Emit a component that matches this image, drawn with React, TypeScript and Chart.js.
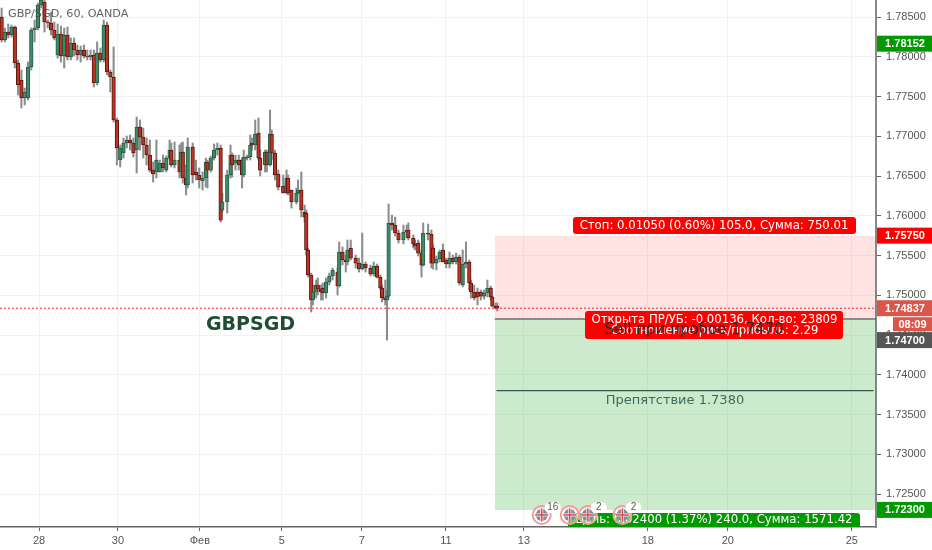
import React, { useEffect, useRef } from "react";
import { Chart, registerables } from "chart.js";

Chart.register(...registerables);

const hours = [
  1,3,5,7,9,11,13,15,17,19,21,23,25,27,29,31,33,35,37,39,41,43,45,47,49,51,53,55,57,59,61,63,65,67,69,71,73,75,77,79,81,83,85,87,89,91,93,95,
  97,99,101,103,104,106,109,110,111,113,
  114,117,119,121,123,125,126,128,130,132,
  134,135,138,140,141,143,145,147,148,150,
  152,153,155,157,158,161,162,164,165,167,
  169,172,174,175,177,180,181,183,185,186,
  187,189,190,192,193,195,196,198,200,202,
  205,206,208,210,211,213,216,218,220,222,
  225,227,229,231,232,234,235,236,238,240,
  242,245,247,248,251,252,254,256,257,260,
  262,263,265,267,269,271,273,275,277,279,
  281,283,285,286,288,290,292,294,296,298,
  299,301,302,
];

const opens = [
  1.785,1.78211,1.78311,1.78274,1.78374,1.77921,1.77708,1.77481,1.77481,1.77871,1.78337,1.78362,1.78651,1.78689,1.78437,1.78425,1.78337,1.78022,1.78286,1.7801,1.78274,1.77997,1.78173,1.78085,1.78022,1.78085,1.7801,1.77997,1.78022,1.7767,1.78047,1.77959,1.78399,1.77808,1.77745,1.77205,1.76701,1.76789,1.76915,1.76953,1.76915,1.76827,1.77116,1.7699,1.7689,1.76764,1.76575,1.7655,
  1.7655,1.76663,1.76575,1.76726,1.76827,1.76638,1.76701,1.7655,1.76802,1.76475,
  1.76387,1.76865,1.7655,1.76513,1.76437,1.76475,1.76676,1.76575,1.76726,1.76827,
  1.76852,1.76072,1.76173,1.76513,1.76764,1.76663,1.76701,1.76701,1.76513,1.76739,
  1.76739,1.76915,1.7689,1.77041,1.76726,1.76638,1.76802,1.76638,1.77028,1.76789,
  1.76525,1.76374,1.76286,1.76475,1.76324,1.76173,1.76286,1.76324,1.76047,1.76034,
  1.75569,1.75255,1.7494,1.75041,1.75129,1.75078,1.75091,1.75028,1.75166,1.75242,
  1.75292,1.75116,1.75544,1.75443,1.75418,1.75594,1.75468,1.75405,1.7533,1.75393,
  1.75343,1.75267,1.75368,1.75229,1.75091,1.74965,1.7494,1.7499,1.75909,1.75884,
  1.75783,1.75695,1.75796,1.75821,1.7572,1.75645,1.75657,1.75531,1.7538,1.75783,
  1.7577,1.75594,1.75405,1.75456,1.75569,1.75443,1.75393,1.75468,1.75418,1.75481,
  1.75129,1.75393,1.75418,1.75154,1.75041,1.75041,1.75041,1.7499,1.75028,1.75091,
  1.74978,1.74864,1.74864,
];

const closes = [
  1.78211,1.78311,1.78274,1.78374,1.77921,1.77645,1.77481,1.77557,1.77871,1.78337,1.78362,1.78651,1.78714,1.78437,1.78425,1.78337,1.78236,1.78286,1.7801,1.78274,1.77997,1.78173,1.78085,1.78022,1.78085,1.7801,1.77997,1.78022,1.7767,1.78047,1.77959,1.78399,1.77808,1.77745,1.77205,1.76852,1.76852,1.76915,1.76953,1.76915,1.76789,1.77116,1.7699,1.7689,1.76764,1.76575,1.76525,1.76701,
  1.76663,1.76601,1.76726,1.76827,1.76638,1.76701,1.7655,1.76802,1.76475,1.76387,
  1.76865,1.76513,1.76513,1.7645,1.76475,1.76676,1.76575,1.76726,1.76827,1.76852,
  1.75946,1.76173,1.76513,1.76764,1.76638,1.76701,1.76638,1.76513,1.76739,1.76726,
  1.7689,1.7689,1.77028,1.76726,1.76575,1.76802,1.76638,1.77028,1.76789,1.76513,
  1.76361,1.76286,1.76475,1.76286,1.76173,1.76286,1.76324,1.76072,1.75984,1.75569,
  1.75255,1.7494,1.75041,1.75129,1.75078,1.75041,1.75028,1.75166,1.75242,1.75318,
  1.75116,1.75544,1.75443,1.75418,1.75569,1.75468,1.75405,1.7533,1.75393,1.75343,
  1.75267,1.75368,1.75229,1.75091,1.74965,1.7494,1.7499,1.75909,1.75884,1.75783,
  1.75695,1.75796,1.75821,1.7572,1.75645,1.75619,1.75531,1.7538,1.75783,1.7577,
  1.75405,1.75405,1.75456,1.75544,1.75418,1.75393,1.75468,1.75418,1.75481,1.75154,
  1.75393,1.75418,1.75154,1.75041,1.74965,1.74978,1.7499,1.75028,1.75091,1.74978,
  1.74864,1.74839,1.74837,
];

const highs = [
  1.78613,1.78362,1.78412,1.78399,1.78387,1.77959,1.77833,1.77607,1.77934,1.78362,1.78462,1.78676,1.78714,1.78714,1.78462,1.78563,1.78437,1.78412,1.78387,1.78362,1.78374,1.78236,1.78236,1.78148,1.78135,1.78148,1.78085,1.78085,1.78085,1.78186,1.7811,1.78462,1.78437,1.77833,1.78123,1.7723,1.7689,1.76978,1.77003,1.77016,1.76978,1.77242,1.77205,1.77104,1.76978,1.76953,1.76676,1.76953,
  1.76701,1.76764,1.76752,1.76953,1.76915,1.76928,1.7689,1.76915,1.76928,1.76638,
  1.76978,1.76915,1.76701,1.76601,1.7655,1.76726,1.76701,1.76752,1.76903,1.76915,
  1.7689,1.76286,1.76575,1.7689,1.76789,1.76764,1.76764,1.76726,1.76827,1.76764,
  1.77016,1.76978,1.77205,1.7723,1.76827,1.76827,1.76827,1.7733,1.77079,1.76827,
  1.76575,1.76513,1.76575,1.76513,1.76324,1.76349,1.7645,1.7655,1.76135,1.76072,
  1.75594,1.7528,1.75129,1.75192,1.75217,1.75129,1.75154,1.75217,1.7528,1.75343,
  1.75343,1.7567,1.75607,1.75506,1.75695,1.75695,1.75506,1.75468,1.75783,1.75418,
  1.7538,1.75418,1.75393,1.75255,1.75129,1.75192,1.75066,1.76148,1.76009,1.75984,
  1.75821,1.75884,1.75884,1.75909,1.75758,1.75695,1.75695,1.75569,1.75909,1.75896,
  1.75821,1.75632,1.75494,1.75569,1.75645,1.75468,1.75544,1.75506,1.75531,1.75506,
  1.75569,1.7567,1.75443,1.75192,1.75129,1.75091,1.75066,1.75066,1.75192,1.75116,
  1.7499,1.74902,1.74902,
];

const lows = [
  1.78186,1.78186,1.78236,1.78249,1.77859,1.77519,1.77355,1.77393,1.77456,1.77833,1.78186,1.78337,1.78613,1.78311,1.78362,1.78274,1.78211,1.77984,1.77934,1.77859,1.77959,1.77959,1.7801,1.77959,1.77934,1.77984,1.77959,1.77959,1.7762,1.77645,1.77934,1.77934,1.77771,1.77557,1.77179,1.76638,1.76613,1.76726,1.76852,1.76827,1.76739,1.76538,1.76827,1.76726,1.76638,1.7655,1.76424,1.76475,
  1.7655,1.7655,1.7655,1.76701,1.76613,1.76601,1.76475,1.765,1.76412,1.76261,
  1.76349,1.76412,1.7645,1.76349,1.76324,1.76361,1.76349,1.7655,1.76701,1.76764,
  1.75921,1.76047,1.76034,1.76475,1.76487,1.76575,1.76575,1.76349,1.76487,1.76701,
  1.76701,1.76827,1.76827,1.76701,1.765,1.7655,1.7655,1.76626,1.76701,1.7645,
  1.76324,1.76286,1.76273,1.76261,1.76097,1.76148,1.76273,1.75984,1.75921,1.75506,
  1.75229,1.74789,1.74877,1.74965,1.75003,1.7494,1.7494,1.74965,1.75129,1.75192,
  1.75003,1.75104,1.7538,1.75292,1.7538,1.75443,1.75343,1.75292,1.75318,1.75292,
  1.75242,1.75242,1.75217,1.75066,1.74915,1.74877,1.74437,1.74965,1.75821,1.75745,
  1.75657,1.75645,1.7572,1.75695,1.75594,1.75569,1.75494,1.75229,1.75368,1.75695,
  1.75343,1.7533,1.75318,1.75418,1.75418,1.75343,1.75343,1.75393,1.75393,1.75129,
  1.75104,1.75343,1.75066,1.74965,1.7494,1.74877,1.7494,1.74953,1.74978,1.7494,
  1.74852,1.74827,1.74802,
];

const yTickValues = [1.725, 1.73, 1.735, 1.74, 1.745, 1.75, 1.755, 1.76, 1.765, 1.77, 1.775, 1.78, 1.785];
const xTickHours = [23.7, 71.6, 121.4, 171.2, 219.8, 270.8, 318.2, 393.4, 442, 517.3];
const xTickLabels = ["28", "30", "Фев", "5", "7", "11", "13", "18", "20", "25"];

const stopPrice = 1.7575;
const entryPrice = 1.747;
const barrierPrice = 1.738;
const targetPrice = 1.723;
const lastPrice = 1.74837;
const swingTagPrice = 1.78152;
const positionStart = 300.5;
const axisEndHour = 532;
const eventHours = [329, 346, 357, 378];
const eventBadges = ["16", "", "2", "2"];
const eventPrice = 1.72236;

const symbolTitle = "GBP/SGD, 60, OANDA";
const watermark = "GBPSGD";
const stopText = "Стоп: 0.01050 (0.60%) 105.0, Сумма: 750.01";
const openText = "Открыта ПР/УБ: -0.00136, Кол-во: 23809";
const ratioText = "Соотношение риск/прибыль: 2.29";
const sellText = "Sell при пробое 1.7470";
const barrierText = "Препятствие 1.7380";
const targetText = "Цель: 0.02400 (1.37%) 240.0, Сумма: 1571.42";
const timerText = "08:09";

const UP = "#3d8b68";
const DOWN = "#bd3322";
const UP_EDGE = "#245c45";
const DOWN_EDGE = "#5a1812";
const RED = "#ff0000";
const GREEN = "#009900";
const SANS = '"DejaVu Sans", sans-serif';
const AXIS = '"Liberation Sans", sans-serif';

function rr(ctx: CanvasRenderingContext2D, x: number, y: number, w: number, h: number, r: number, color: string) {
  ctx.beginPath();
  ctx.roundRect(x, y, w, h, r);
  ctx.fillStyle = color;
  ctx.fill();
}

const overlay = {
  id: "overlay",
  afterDraw(chart: any) {
    const { ctx, chartArea, scales } = chart;
    const X = (v: number) => scales.x.getPixelForValue(v);
    const Y = (v: number) => scales.y.getPixelForValue(v);
    ctx.save();
    ctx.textBaseline = "middle";

    ctx.font = `11.2px ${SANS}`;
    ctx.fillStyle = "rgba(70,70,70,0.85)";
    ctx.textAlign = "left";
    ctx.fillText(symbolTitle, 8, 14);

    ctx.font = `bold 19px ${SANS}`;
    ctx.fillStyle = "#1f4d33";
    ctx.textAlign = "center";
    ctx.fillText(watermark, 250.5, 325);

    ctx.font = `11.7px ${SANS}`;
    ctx.textAlign = "center";
    rr(ctx, 573, 217, 283, 17, 3, RED);
    ctx.fillStyle = "#fff";
    ctx.fillText(stopText, 714, 226);

    rr(ctx, 585, 311, 258, 28, 3, RED);
    ctx.fillStyle = "#fff";
    ctx.fillText(openText, 714.5, 320);
    ctx.fillText(ratioText, 714.5, 331);
    ctx.font = `15px ${SANS}`;
    ctx.fillStyle = "#2a2a30";
    ctx.fillText(sellText, 694, 330);

    ctx.font = `13px ${SANS}`;
    ctx.fillStyle = "#3c6b5c";
    ctx.fillText(barrierText, 675, 401);

    ctx.save();
    ctx.beginPath();
    ctx.rect(chartArea.left, chartArea.top, chartArea.width, chartArea.height);
    ctx.clip();
    rr(ctx, 568, 513, 292, 20, 3, GREEN);
    ctx.font = `11.7px ${SANS}`;
    ctx.fillStyle = "#fff";
    ctx.fillText(targetText, 714, 520);

    eventHours.forEach((h, i) => {
      const cx = X(h);
      const cy = Y(eventPrice);
      ctx.beginPath();
      ctx.arc(cx, cy, 9, 0, Math.PI * 2);
      ctx.fillStyle = "rgba(255,255,255,0.45)";
      ctx.fill();
      ctx.lineWidth = 2;
      ctx.strokeStyle = "#f99a9a";
      ctx.stroke();
      ctx.beginPath();
      ctx.arc(cx, cy, 6, 0, Math.PI * 2);
      ctx.fillStyle = "#7d8ca0";
      ctx.fill();
      ctx.strokeStyle = "#f3f3f3";
      ctx.lineWidth = 3;
      ctx.beginPath();
      ctx.moveTo(cx - 6.5, cy);
      ctx.lineTo(cx + 6.5, cy);
      ctx.moveTo(cx, cy - 6.5);
      ctx.lineTo(cx, cy + 6.5);
      ctx.stroke();
      ctx.strokeStyle = "#e6474b";
      ctx.lineWidth = 1.5;
      ctx.stroke();
      const badge = eventBadges[i];
      if (badge) {
        rr(ctx, cx + 3, cy - 13, 16, 11, 5.5, "#fff");
        ctx.font = `10px ${AXIS}`;
        ctx.fillStyle = "#555";
        ctx.fillText(badge, cx + 11, cy - 7.5);
      }
    });
    ctx.restore();

    const left = chartArea.right + 1;
    const tag = (txt: string, y: number, color: string) => {
      ctx.fillStyle = color;
      ctx.fillRect(left, y - 8, 932 - left, 16);
      ctx.fillStyle = "#fff";
      ctx.font = `bold 11px ${AXIS}`;
      ctx.textAlign = "center";
      ctx.fillText(txt, left + 28, y + 0.5);
    };
    tag(swingTagPrice.toFixed(5), Y(swingTagPrice) - 1, GREEN);
    tag(stopPrice.toFixed(5), Y(stopPrice), RED);
    tag(lastPrice.toFixed(5), Y(lastPrice), "#d9574a");
    ctx.fillStyle = "#d9574a";
    ctx.fillRect(893, Y(lastPrice) + 9, 39, 14);
    ctx.fillStyle = "#fff";
    ctx.font = `bold 11px ${AXIS}`;
    ctx.fillText(timerText, 912.5, Y(lastPrice) + 16.5);
    tag(entryPrice.toFixed(5), Y(entryPrice) + 21, "#555555");
    tag(targetPrice.toFixed(5), Y(targetPrice), GREEN);
    ctx.restore();
  },
};

export default function App() {
  const ref = useRef<HTMLCanvasElement | null>(null);

  useEffect(() => {
    if (!ref.current) return;
    const seg = (y: number, a: number, b: number) => [
      { x: a, y },
      { x: b, y },
    ];
    const chart = new Chart(ref.current, {
      type: "bar",
      data: {
        datasets: [
          {
            type: "line",
            data: seg(stopPrice, positionStart, axisEndHour),
            borderWidth: 0,
            pointRadius: 0,
            fill: { value: entryPrice },
            backgroundColor: "rgba(255,60,60,0.15)",
            order: 9,
          },
          {
            type: "line",
            data: seg(targetPrice, positionStart, axisEndHour),
            borderWidth: 0,
            pointRadius: 0,
            fill: { value: entryPrice },
            backgroundColor: "rgba(40,170,40,0.24)",
            order: 9,
          },
          {
            type: "line",
            data: seg(entryPrice, positionStart, axisEndHour),
            borderColor: "#6e6e6e",
            borderWidth: 1.5,
            pointRadius: 0,
            order: 8,
          },
          {
            type: "line",
            data: seg(barrierPrice, positionStart + 1, 530.5),
            borderColor: "#2f5a4c",
            borderWidth: 1.3,
            pointRadius: 0,
            order: 8,
          },
          {
            type: "bar",
            data: hours.map((h, i) => ({ x: h, y: [lows[i], highs[i]] })),
            backgroundColor: "#8c8c8c",
            borderWidth: 0,
            barThickness: 1.4,
            grouped: false,
            order: 5,
          },
          {
            type: "bar",
            data: hours.map((h, i) => ({ x: h, y: [opens[i], closes[i]] })),
            backgroundColor: hours.map((_, i) => (closes[i] >= opens[i] ? UP : DOWN)),
            borderColor: hours.map((_, i) => (closes[i] >= opens[i] ? UP_EDGE : DOWN_EDGE)),
            borderWidth: 1,
            borderSkipped: false,
            barThickness: 3.6,
            grouped: false,
            order: 3,
          },
          {
            type: "line",
            data: seg(lastPrice, 0, axisEndHour),
            borderColor: "#f02020",
            borderWidth: 1,
            borderDash: [2, 2],
            pointRadius: 0,
            order: 1,
          },
        ],
      } as any,
      options: {
        responsive: false,
        animation: false,
        layout: { padding: 0 },
        plugins: { legend: { display: false }, tooltip: { enabled: false }, title: { display: false } },
        scales: {
          x: {
            type: "linear",
            min: 0,
            max: axisEndHour,
            offset: false,
            grid: { color: "#f1f2f5", offset: false, tickLength: 4, tickColor: "#666" },
            border: { color: "#666", width: 1.5 },
            afterBuildTicks: (axis: any) => {
              axis.ticks = xTickHours.map((value) => ({ value }));
            },
            afterFit: (axis: any) => {
              axis.height = 23;
              axis.paddingLeft = 0;
              axis.paddingRight = 0;
            },
            ticks: {
              autoSkip: false,
              maxRotation: 0,
              padding: 3,
              color: "#555",
              font: { family: '"Liberation Sans", sans-serif', size: 11 },
              callback: (_: any, i: number) => xTickLabels[i],
            },
          },
          y: {
            type: "linear",
            position: "right",
            min: 1.72085,
            max: 1.78714,
            grid: { color: "#f1f2f5", tickLength: 5, tickColor: "#666" },
            border: { color: "#888", width: 2 },
            afterBuildTicks: (axis: any) => {
              axis.ticks = yTickValues.map((value) => ({ value }));
            },
            afterFit: (axis: any) => {
              axis.width = 56;
              axis.paddingTop = 0;
              axis.paddingBottom = 0;
            },
            ticks: {
              autoSkip: false,
              padding: 5,
              color: "#555",
              font: { family: '"Liberation Sans", sans-serif', size: 11 },
              callback: (v: any) => Number(v).toFixed(5),
            },
          },
        },
      },
      plugins: [overlay],
    } as any);
    return () => chart.destroy();
  }, []);

  return (
    <canvas
      ref={ref}
      width={932}
      height={550}
      style={{ position: "absolute", left: 0, top: 0, width: 932, height: 550, display: "block" }}
    />
  );
}
